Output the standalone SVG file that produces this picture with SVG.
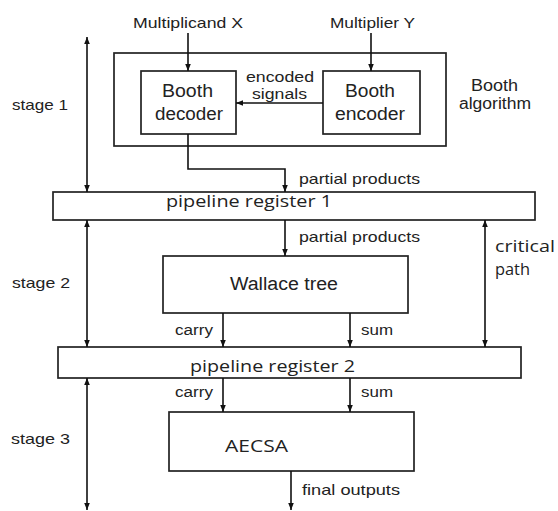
<svg xmlns="http://www.w3.org/2000/svg" width="558" height="511" viewBox="0 0 558 511">
  <defs>
    <marker id="ah" viewBox="0 0 10 10" refX="10" refY="5" markerWidth="8" markerHeight="7" markerUnits="userSpaceOnUse" orient="auto-start-reverse">
      <path d="M0,1 L10,5 L0,9 Z" fill="#111"/>
    </marker>
    <style>
      .box { fill: #fff; stroke: #222; stroke-width: 1.7; }
      .wire { fill: none; stroke: #111; stroke-width: 1.6; }
      .arr { marker-end: url(#ah); }
      .dbl { marker-start: url(#ah); marker-end: url(#ah); }
      .t { font-family: "Liberation Sans", Arial, sans-serif; fill: #222; }
      .c { font-family: "Open Sans", "Liberation Sans", sans-serif; fill: #222; }
    </style>
  </defs>
  <rect width="558" height="511" fill="#fff"/>

  <!-- inputs -->
  <g id="input-x">
    <text class="t" x="133" y="28" font-size="15" textLength="110" lengthAdjust="spacingAndGlyphs">Multiplicand X</text>
  </g>
  <g id="input-y">
    <text class="t" x="330" y="28" font-size="15" textLength="85" lengthAdjust="spacingAndGlyphs">Multiplier Y</text>
  </g>

  <!-- Booth algorithm block -->
  <g id="booth-algorithm">
    <rect class="box" x="114" y="53" width="332" height="93"/>
    <text class="t" x="471" y="91" font-size="16" textLength="47" lengthAdjust="spacingAndGlyphs">Booth</text>
    <text class="t" x="459" y="109" font-size="16" textLength="72" lengthAdjust="spacingAndGlyphs">algorithm</text>
  </g>
  <g id="booth-decoder">
    <rect class="box" x="141" y="71" width="95" height="63"/>
    <text class="t" x="162" y="97" font-size="18" textLength="51" lengthAdjust="spacingAndGlyphs">Booth</text>
    <text class="t" x="155" y="120" font-size="18" textLength="68" lengthAdjust="spacingAndGlyphs">decoder</text>
  </g>
  <g id="booth-encoder">
    <rect class="box" x="323" y="71" width="97" height="63"/>
    <text class="t" x="345" y="97" font-size="18" textLength="50" lengthAdjust="spacingAndGlyphs">Booth</text>
    <text class="t" x="335" y="120" font-size="18" textLength="70" lengthAdjust="spacingAndGlyphs">encoder</text>
  </g>

  <!-- pipeline registers -->
  <g id="pipeline-register-1">
    <rect class="box" x="53" y="192" width="482" height="28"/>
    <text class="c" x="166" y="207" font-size="16" textLength="166" lengthAdjust="spacingAndGlyphs">pipeline register 1</text>
  </g>
  <g id="wallace-tree">
    <rect class="box" x="163" y="256" width="245" height="57"/>
    <text class="t" x="230" y="290" font-size="18" textLength="108" lengthAdjust="spacingAndGlyphs">Wallace tree</text>
  </g>
  <g id="pipeline-register-2">
    <rect class="box" x="58" y="347" width="463" height="31"/>
    <text class="c" x="190" y="372" font-size="16" textLength="165" lengthAdjust="spacingAndGlyphs">pipeline register 2</text>
  </g>
  <g id="aecsa">
    <rect class="box" x="169" y="412" width="245" height="59"/>
    <text class="c" x="225" y="452" font-size="17" textLength="63" lengthAdjust="spacingAndGlyphs">AECSA</text>
  </g>

  <!-- stage markers -->
  <g id="stage-labels">
    <text class="t" x="12" y="110" font-size="15" textLength="56" lengthAdjust="spacingAndGlyphs">stage 1</text>
    <text class="t" x="12" y="288" font-size="15" textLength="58" lengthAdjust="spacingAndGlyphs">stage 2</text>
    <text class="t" x="11" y="444" font-size="15" textLength="59" lengthAdjust="spacingAndGlyphs">stage 3</text>
    <text class="c" x="495" y="252" font-size="17" textLength="60" lengthAdjust="spacingAndGlyphs">critical</text>
    <text class="c" x="495" y="275" font-size="17" textLength="35" lengthAdjust="spacingAndGlyphs">path</text>
  </g>

  <!-- connectors -->
  <g id="connectors">
    <line class="wire arr" x1="188" y1="33" x2="188" y2="71"/>
    <line class="wire arr" x1="371" y1="33" x2="371" y2="71"/>
    <line class="wire arr" x1="323" y1="103" x2="236" y2="103"/>
    <polyline class="wire arr" points="188,134 188,169 285,169 285,192"/>
    <line class="wire arr" x1="285" y1="220" x2="285" y2="256"/>
    <line class="wire arr" x1="223" y1="313" x2="223" y2="347"/>
    <line class="wire arr" x1="350" y1="313" x2="350" y2="347"/>
    <line class="wire arr" x1="223" y1="378" x2="223" y2="412"/>
    <line class="wire arr" x1="350" y1="378" x2="350" y2="412"/>
    <line class="wire arr" x1="291" y1="471" x2="291" y2="510"/>
    <line class="wire dbl" x1="87" y1="37" x2="87" y2="192"/>
    <line class="wire dbl" x1="87" y1="220" x2="87" y2="347"/>
    <line class="wire dbl" x1="87" y1="378" x2="87" y2="510"/>
    <line class="wire dbl" x1="485" y1="220" x2="485" y2="347"/>
  </g>

  <!-- connector labels -->
  <g id="connector-labels">
    <text class="t" x="246" y="82" font-size="14" textLength="68" lengthAdjust="spacingAndGlyphs">encoded</text>
    <text class="t" x="252" y="99" font-size="14" textLength="55" lengthAdjust="spacingAndGlyphs">signals</text>
    <text class="t" x="299" y="184" font-size="15" textLength="121" lengthAdjust="spacingAndGlyphs">partial products</text>
    <text class="t" x="299" y="242" font-size="15" textLength="121" lengthAdjust="spacingAndGlyphs">partial products</text>
    <text class="t" x="175" y="335" font-size="14" textLength="38" lengthAdjust="spacingAndGlyphs">carry</text>
    <text class="t" x="361" y="335" font-size="14" textLength="32" lengthAdjust="spacingAndGlyphs">sum</text>
    <text class="t" x="175" y="397" font-size="14" textLength="38" lengthAdjust="spacingAndGlyphs">carry</text>
    <text class="t" x="361" y="397" font-size="14" textLength="32" lengthAdjust="spacingAndGlyphs">sum</text>
    <text class="t" x="302" y="495" font-size="15" textLength="98" lengthAdjust="spacingAndGlyphs">final outputs</text>
  </g>
</svg>
